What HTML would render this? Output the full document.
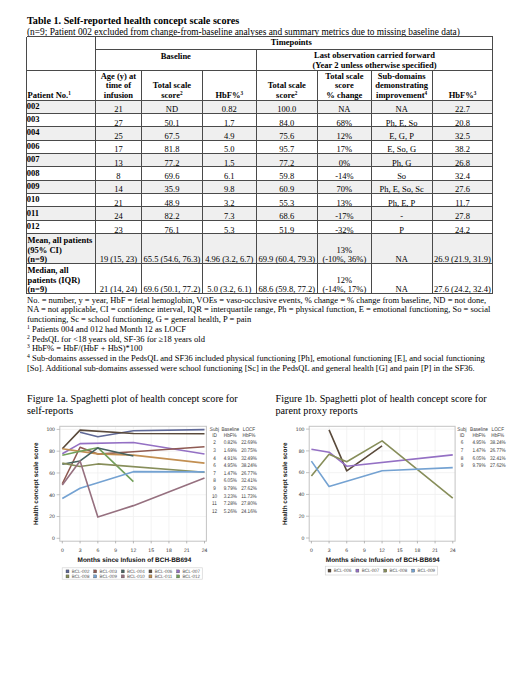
<!DOCTYPE html>
<html><head><meta charset="utf-8"><style>
html,body{margin:0;padding:0;background:#fff;}
body{width:520px;height:673px;position:relative;overflow:hidden;}
.t{position:absolute;white-space:nowrap;color:#000;}
.r{position:absolute;}
svg{position:absolute;left:0;top:0;}
svg text{font-family:'Liberation Sans',sans-serif;text-rendering:geometricPrecision;}
</style></head><body>
<div id="pg" style="position:absolute;left:0;top:0;width:520px;height:673px;">
<div class="t" style="left:27.00px;top:15.24px;font-size:10.2px;line-height:12.24px;font-family:'Liberation Serif', serif;font-weight:bold;">Table 1. Self-reported health concept scale scores</div><div class="t" style="left:27.00px;top:26.83px;font-size:9.35px;line-height:11.22px;font-family:'Liberation Serif', serif;">(n=9; Patient 002 excluded from change-from-baseline analyses and summary metrics due to missing baseline data)</div><div class="r" style="left:26.70px;top:100.00px;width:466.20px;height:13.37px;background:#efefef"></div><div class="r" style="left:26.70px;top:126.74px;width:466.20px;height:13.37px;background:#efefef"></div><div class="r" style="left:26.70px;top:153.48px;width:466.20px;height:13.37px;background:#efefef"></div><div class="r" style="left:26.70px;top:180.22px;width:466.20px;height:13.37px;background:#efefef"></div><div class="r" style="left:26.70px;top:206.96px;width:466.20px;height:13.37px;background:#efefef"></div><div class="r" style="left:26.70px;top:233.70px;width:466.20px;height:29.70px;background:#efefef"></div><div class="r" style="left:26.70px;top:36.00px;width:466.20px;height:1.00px;background:#4a4a4a"></div><div class="r" style="left:95.40px;top:49.10px;width:397.50px;height:1.00px;background:#4a4a4a"></div><div class="r" style="left:26.70px;top:69.50px;width:466.20px;height:1.00px;background:#4a4a4a"></div><div class="r" style="left:26.70px;top:99.50px;width:466.20px;height:1.00px;background:#4a4a4a"></div><div class="r" style="left:26.70px;top:112.87px;width:466.20px;height:1.00px;background:#4a4a4a"></div><div class="r" style="left:26.70px;top:126.24px;width:466.20px;height:1.00px;background:#4a4a4a"></div><div class="r" style="left:26.70px;top:139.61px;width:466.20px;height:1.00px;background:#4a4a4a"></div><div class="r" style="left:26.70px;top:152.98px;width:466.20px;height:1.00px;background:#4a4a4a"></div><div class="r" style="left:26.70px;top:166.35px;width:466.20px;height:1.00px;background:#4a4a4a"></div><div class="r" style="left:26.70px;top:179.72px;width:466.20px;height:1.00px;background:#4a4a4a"></div><div class="r" style="left:26.70px;top:193.09px;width:466.20px;height:1.00px;background:#4a4a4a"></div><div class="r" style="left:26.70px;top:206.46px;width:466.20px;height:1.00px;background:#4a4a4a"></div><div class="r" style="left:26.70px;top:219.83px;width:466.20px;height:1.00px;background:#4a4a4a"></div><div class="r" style="left:26.70px;top:233.20px;width:466.20px;height:1.00px;background:#4a4a4a"></div><div class="r" style="left:26.70px;top:262.90px;width:466.20px;height:1.00px;background:#4a4a4a"></div><div class="r" style="left:26.70px;top:292.60px;width:466.20px;height:1.00px;background:#4a4a4a"></div><div class="r" style="left:26.20px;top:36.50px;width:1.00px;height:257.10px;background:#4a4a4a"></div><div class="r" style="left:492.40px;top:36.50px;width:1.00px;height:257.10px;background:#4a4a4a"></div><div class="r" style="left:94.90px;top:36.50px;width:1.00px;height:256.60px;background:#4a4a4a"></div><div class="r" style="left:255.70px;top:49.60px;width:1.00px;height:243.50px;background:#4a4a4a"></div><div class="r" style="left:141.00px;top:70.00px;width:1.00px;height:223.10px;background:#4a4a4a"></div><div class="r" style="left:201.90px;top:70.00px;width:1.00px;height:223.10px;background:#4a4a4a"></div><div class="r" style="left:316.90px;top:70.00px;width:1.00px;height:223.10px;background:#4a4a4a"></div><div class="r" style="left:370.80px;top:70.00px;width:1.00px;height:223.10px;background:#4a4a4a"></div><div class="r" style="left:431.50px;top:70.00px;width:1.00px;height:223.10px;background:#4a4a4a"></div><div class="t" style="left:270.80px;top:37.03px;font-size:8.5px;line-height:10.2px;font-family:'Liberation Serif', serif;font-weight:bold;">Timepoints</div><div class="t" style="left:95.40px;top:50.53px;font-size:8.5px;line-height:10.2px;font-family:'Liberation Serif', serif;font-weight:bold;width:160.80px;text-align:center;">Baseline</div><div class="t" style="left:256.20px;top:49.83px;font-size:8.5px;line-height:10.2px;font-family:'Liberation Serif', serif;font-weight:bold;width:236.70px;text-align:center;">Last observation carried forward</div><div class="t" style="left:256.20px;top:59.93px;font-size:8.5px;line-height:10.2px;font-family:'Liberation Serif', serif;font-weight:bold;width:236.70px;text-align:center;">(Year 2 unless otherwise specified)</div><div class="t" style="left:27.60px;top:90.13px;font-size:8.5px;line-height:10.2px;font-family:'Liberation Serif', serif;font-weight:bold;">Patient No.<span style="font-size:5.2px;vertical-align:3.2px;line-height:0">1</span></div><div class="t" style="left:95.40px;top:70.63px;font-size:8.5px;line-height:10.2px;font-family:'Liberation Serif', serif;font-weight:bold;width:46.10px;text-align:center;">Age (y) at</div><div class="t" style="left:95.40px;top:79.93px;font-size:8.5px;line-height:10.2px;font-family:'Liberation Serif', serif;font-weight:bold;width:46.10px;text-align:center;">time of</div><div class="t" style="left:95.40px;top:89.63px;font-size:8.5px;line-height:10.2px;font-family:'Liberation Serif', serif;font-weight:bold;width:46.10px;text-align:center;">infusion</div><div class="t" style="left:141.50px;top:79.93px;font-size:8.5px;line-height:10.2px;font-family:'Liberation Serif', serif;font-weight:bold;width:60.90px;text-align:center;">Total scale</div><div class="t" style="left:141.50px;top:89.63px;font-size:8.5px;line-height:10.2px;font-family:'Liberation Serif', serif;font-weight:bold;width:60.90px;text-align:center;">score<span style="font-size:5.2px;vertical-align:3.2px;line-height:0">2</span></div><div class="t" style="left:202.40px;top:89.63px;font-size:8.5px;line-height:10.2px;font-family:'Liberation Serif', serif;font-weight:bold;width:53.80px;text-align:center;">HbF%<span style="font-size:5.2px;vertical-align:3.2px;line-height:0">3</span></div><div class="t" style="left:256.20px;top:79.93px;font-size:8.5px;line-height:10.2px;font-family:'Liberation Serif', serif;font-weight:bold;width:61.20px;text-align:center;">Total scale</div><div class="t" style="left:256.20px;top:89.63px;font-size:8.5px;line-height:10.2px;font-family:'Liberation Serif', serif;font-weight:bold;width:61.20px;text-align:center;">score<span style="font-size:5.2px;vertical-align:3.2px;line-height:0">2</span></div><div class="t" style="left:317.40px;top:70.63px;font-size:8.5px;line-height:10.2px;font-family:'Liberation Serif', serif;font-weight:bold;width:53.90px;text-align:center;">Total scale</div><div class="t" style="left:317.40px;top:79.93px;font-size:8.5px;line-height:10.2px;font-family:'Liberation Serif', serif;font-weight:bold;width:53.90px;text-align:center;">score</div><div class="t" style="left:317.40px;top:89.63px;font-size:8.5px;line-height:10.2px;font-family:'Liberation Serif', serif;font-weight:bold;width:53.90px;text-align:center;">% change</div><div class="t" style="left:371.30px;top:70.63px;font-size:8.5px;line-height:10.2px;font-family:'Liberation Serif', serif;font-weight:bold;width:60.70px;text-align:center;">Sub-domains</div><div class="t" style="left:371.30px;top:79.93px;font-size:8.5px;line-height:10.2px;font-family:'Liberation Serif', serif;font-weight:bold;width:60.70px;text-align:center;">demonstrating</div><div class="t" style="left:371.30px;top:89.63px;font-size:8.5px;line-height:10.2px;font-family:'Liberation Serif', serif;font-weight:bold;width:60.70px;text-align:center;">improvement<span style="font-size:5.2px;vertical-align:3.2px;line-height:0">4</span></div><div class="t" style="left:432.00px;top:89.63px;font-size:8.5px;line-height:10.2px;font-family:'Liberation Serif', serif;font-weight:bold;width:60.90px;text-align:center;">HbF%<span style="font-size:5.2px;vertical-align:3.2px;line-height:0">3</span></div><div class="t" style="left:26.80px;top:100.73px;font-size:8.5px;line-height:10.2px;font-family:'Liberation Serif', serif;font-weight:bold;">002</div><div class="t" style="left:95.40px;top:104.20px;font-size:8.5px;line-height:10.2px;font-family:'Liberation Serif', serif;width:46.10px;text-align:center;">21</div><div class="t" style="left:141.50px;top:104.20px;font-size:8.5px;line-height:10.2px;font-family:'Liberation Serif', serif;width:60.90px;text-align:center;">ND</div><div class="t" style="left:202.40px;top:104.20px;font-size:8.5px;line-height:10.2px;font-family:'Liberation Serif', serif;width:53.80px;text-align:center;">0.82</div><div class="t" style="left:256.20px;top:104.20px;font-size:8.5px;line-height:10.2px;font-family:'Liberation Serif', serif;width:61.20px;text-align:center;">100.0</div><div class="t" style="left:317.40px;top:104.20px;font-size:8.5px;line-height:10.2px;font-family:'Liberation Serif', serif;width:53.90px;text-align:center;">NA</div><div class="t" style="left:371.30px;top:104.20px;font-size:8.5px;line-height:10.2px;font-family:'Liberation Serif', serif;width:60.70px;text-align:center;">NA</div><div class="t" style="left:432.00px;top:104.20px;font-size:8.5px;line-height:10.2px;font-family:'Liberation Serif', serif;width:60.90px;text-align:center;">22.7</div><div class="t" style="left:26.80px;top:114.10px;font-size:8.5px;line-height:10.2px;font-family:'Liberation Serif', serif;font-weight:bold;">003</div><div class="t" style="left:95.40px;top:117.57px;font-size:8.5px;line-height:10.2px;font-family:'Liberation Serif', serif;width:46.10px;text-align:center;">27</div><div class="t" style="left:141.50px;top:117.57px;font-size:8.5px;line-height:10.2px;font-family:'Liberation Serif', serif;width:60.90px;text-align:center;">50.1</div><div class="t" style="left:202.40px;top:117.57px;font-size:8.5px;line-height:10.2px;font-family:'Liberation Serif', serif;width:53.80px;text-align:center;">1.7</div><div class="t" style="left:256.20px;top:117.57px;font-size:8.5px;line-height:10.2px;font-family:'Liberation Serif', serif;width:61.20px;text-align:center;">84.0</div><div class="t" style="left:317.40px;top:117.57px;font-size:8.5px;line-height:10.2px;font-family:'Liberation Serif', serif;width:53.90px;text-align:center;">68%</div><div class="t" style="left:371.30px;top:117.57px;font-size:8.5px;line-height:10.2px;font-family:'Liberation Serif', serif;width:60.70px;text-align:center;">Ph, E, So</div><div class="t" style="left:432.00px;top:117.57px;font-size:8.5px;line-height:10.2px;font-family:'Liberation Serif', serif;width:60.90px;text-align:center;">20.8</div><div class="t" style="left:26.80px;top:127.47px;font-size:8.5px;line-height:10.2px;font-family:'Liberation Serif', serif;font-weight:bold;">004</div><div class="t" style="left:95.40px;top:130.94px;font-size:8.5px;line-height:10.2px;font-family:'Liberation Serif', serif;width:46.10px;text-align:center;">25</div><div class="t" style="left:141.50px;top:130.94px;font-size:8.5px;line-height:10.2px;font-family:'Liberation Serif', serif;width:60.90px;text-align:center;">67.5</div><div class="t" style="left:202.40px;top:130.94px;font-size:8.5px;line-height:10.2px;font-family:'Liberation Serif', serif;width:53.80px;text-align:center;">4.9</div><div class="t" style="left:256.20px;top:130.94px;font-size:8.5px;line-height:10.2px;font-family:'Liberation Serif', serif;width:61.20px;text-align:center;">75.6</div><div class="t" style="left:317.40px;top:130.94px;font-size:8.5px;line-height:10.2px;font-family:'Liberation Serif', serif;width:53.90px;text-align:center;">12%</div><div class="t" style="left:371.30px;top:130.94px;font-size:8.5px;line-height:10.2px;font-family:'Liberation Serif', serif;width:60.70px;text-align:center;">E, G, P</div><div class="t" style="left:432.00px;top:130.94px;font-size:8.5px;line-height:10.2px;font-family:'Liberation Serif', serif;width:60.90px;text-align:center;">32.5</div><div class="t" style="left:26.80px;top:140.84px;font-size:8.5px;line-height:10.2px;font-family:'Liberation Serif', serif;font-weight:bold;">006</div><div class="t" style="left:95.40px;top:144.31px;font-size:8.5px;line-height:10.2px;font-family:'Liberation Serif', serif;width:46.10px;text-align:center;">17</div><div class="t" style="left:141.50px;top:144.31px;font-size:8.5px;line-height:10.2px;font-family:'Liberation Serif', serif;width:60.90px;text-align:center;">81.8</div><div class="t" style="left:202.40px;top:144.31px;font-size:8.5px;line-height:10.2px;font-family:'Liberation Serif', serif;width:53.80px;text-align:center;">5.0</div><div class="t" style="left:256.20px;top:144.31px;font-size:8.5px;line-height:10.2px;font-family:'Liberation Serif', serif;width:61.20px;text-align:center;">95.7</div><div class="t" style="left:317.40px;top:144.31px;font-size:8.5px;line-height:10.2px;font-family:'Liberation Serif', serif;width:53.90px;text-align:center;">17%</div><div class="t" style="left:371.30px;top:144.31px;font-size:8.5px;line-height:10.2px;font-family:'Liberation Serif', serif;width:60.70px;text-align:center;">E, So, G</div><div class="t" style="left:432.00px;top:144.31px;font-size:8.5px;line-height:10.2px;font-family:'Liberation Serif', serif;width:60.90px;text-align:center;">38.2</div><div class="t" style="left:26.80px;top:154.21px;font-size:8.5px;line-height:10.2px;font-family:'Liberation Serif', serif;font-weight:bold;">007</div><div class="t" style="left:95.40px;top:157.68px;font-size:8.5px;line-height:10.2px;font-family:'Liberation Serif', serif;width:46.10px;text-align:center;">13</div><div class="t" style="left:141.50px;top:157.68px;font-size:8.5px;line-height:10.2px;font-family:'Liberation Serif', serif;width:60.90px;text-align:center;">77.2</div><div class="t" style="left:202.40px;top:157.68px;font-size:8.5px;line-height:10.2px;font-family:'Liberation Serif', serif;width:53.80px;text-align:center;">1.5</div><div class="t" style="left:256.20px;top:157.68px;font-size:8.5px;line-height:10.2px;font-family:'Liberation Serif', serif;width:61.20px;text-align:center;">77.2</div><div class="t" style="left:317.40px;top:157.68px;font-size:8.5px;line-height:10.2px;font-family:'Liberation Serif', serif;width:53.90px;text-align:center;">0%</div><div class="t" style="left:371.30px;top:157.68px;font-size:8.5px;line-height:10.2px;font-family:'Liberation Serif', serif;width:60.70px;text-align:center;">Ph, G</div><div class="t" style="left:432.00px;top:157.68px;font-size:8.5px;line-height:10.2px;font-family:'Liberation Serif', serif;width:60.90px;text-align:center;">26.8</div><div class="t" style="left:26.80px;top:167.58px;font-size:8.5px;line-height:10.2px;font-family:'Liberation Serif', serif;font-weight:bold;">008</div><div class="t" style="left:95.40px;top:171.05px;font-size:8.5px;line-height:10.2px;font-family:'Liberation Serif', serif;width:46.10px;text-align:center;">8</div><div class="t" style="left:141.50px;top:171.05px;font-size:8.5px;line-height:10.2px;font-family:'Liberation Serif', serif;width:60.90px;text-align:center;">69.6</div><div class="t" style="left:202.40px;top:171.05px;font-size:8.5px;line-height:10.2px;font-family:'Liberation Serif', serif;width:53.80px;text-align:center;">6.1</div><div class="t" style="left:256.20px;top:171.05px;font-size:8.5px;line-height:10.2px;font-family:'Liberation Serif', serif;width:61.20px;text-align:center;">59.8</div><div class="t" style="left:317.40px;top:171.05px;font-size:8.5px;line-height:10.2px;font-family:'Liberation Serif', serif;width:53.90px;text-align:center;">-14%</div><div class="t" style="left:371.30px;top:171.05px;font-size:8.5px;line-height:10.2px;font-family:'Liberation Serif', serif;width:60.70px;text-align:center;">So</div><div class="t" style="left:432.00px;top:171.05px;font-size:8.5px;line-height:10.2px;font-family:'Liberation Serif', serif;width:60.90px;text-align:center;">32.4</div><div class="t" style="left:26.80px;top:180.95px;font-size:8.5px;line-height:10.2px;font-family:'Liberation Serif', serif;font-weight:bold;">009</div><div class="t" style="left:95.40px;top:184.42px;font-size:8.5px;line-height:10.2px;font-family:'Liberation Serif', serif;width:46.10px;text-align:center;">14</div><div class="t" style="left:141.50px;top:184.42px;font-size:8.5px;line-height:10.2px;font-family:'Liberation Serif', serif;width:60.90px;text-align:center;">35.9</div><div class="t" style="left:202.40px;top:184.42px;font-size:8.5px;line-height:10.2px;font-family:'Liberation Serif', serif;width:53.80px;text-align:center;">9.8</div><div class="t" style="left:256.20px;top:184.42px;font-size:8.5px;line-height:10.2px;font-family:'Liberation Serif', serif;width:61.20px;text-align:center;">60.9</div><div class="t" style="left:317.40px;top:184.42px;font-size:8.5px;line-height:10.2px;font-family:'Liberation Serif', serif;width:53.90px;text-align:center;">70%</div><div class="t" style="left:371.30px;top:184.42px;font-size:8.5px;line-height:10.2px;font-family:'Liberation Serif', serif;width:60.70px;text-align:center;">Ph, E, So, Sc</div><div class="t" style="left:432.00px;top:184.42px;font-size:8.5px;line-height:10.2px;font-family:'Liberation Serif', serif;width:60.90px;text-align:center;">27.6</div><div class="t" style="left:26.80px;top:194.32px;font-size:8.5px;line-height:10.2px;font-family:'Liberation Serif', serif;font-weight:bold;">010</div><div class="t" style="left:95.40px;top:197.79px;font-size:8.5px;line-height:10.2px;font-family:'Liberation Serif', serif;width:46.10px;text-align:center;">21</div><div class="t" style="left:141.50px;top:197.79px;font-size:8.5px;line-height:10.2px;font-family:'Liberation Serif', serif;width:60.90px;text-align:center;">48.9</div><div class="t" style="left:202.40px;top:197.79px;font-size:8.5px;line-height:10.2px;font-family:'Liberation Serif', serif;width:53.80px;text-align:center;">3.2</div><div class="t" style="left:256.20px;top:197.79px;font-size:8.5px;line-height:10.2px;font-family:'Liberation Serif', serif;width:61.20px;text-align:center;">55.3</div><div class="t" style="left:317.40px;top:197.79px;font-size:8.5px;line-height:10.2px;font-family:'Liberation Serif', serif;width:53.90px;text-align:center;">13%</div><div class="t" style="left:371.30px;top:197.79px;font-size:8.5px;line-height:10.2px;font-family:'Liberation Serif', serif;width:60.70px;text-align:center;">Ph, E, P</div><div class="t" style="left:432.00px;top:197.79px;font-size:8.5px;line-height:10.2px;font-family:'Liberation Serif', serif;width:60.90px;text-align:center;">11.7</div><div class="t" style="left:26.80px;top:207.69px;font-size:8.5px;line-height:10.2px;font-family:'Liberation Serif', serif;font-weight:bold;">011</div><div class="t" style="left:95.40px;top:211.16px;font-size:8.5px;line-height:10.2px;font-family:'Liberation Serif', serif;width:46.10px;text-align:center;">24</div><div class="t" style="left:141.50px;top:211.16px;font-size:8.5px;line-height:10.2px;font-family:'Liberation Serif', serif;width:60.90px;text-align:center;">82.2</div><div class="t" style="left:202.40px;top:211.16px;font-size:8.5px;line-height:10.2px;font-family:'Liberation Serif', serif;width:53.80px;text-align:center;">7.3</div><div class="t" style="left:256.20px;top:211.16px;font-size:8.5px;line-height:10.2px;font-family:'Liberation Serif', serif;width:61.20px;text-align:center;">68.6</div><div class="t" style="left:317.40px;top:211.16px;font-size:8.5px;line-height:10.2px;font-family:'Liberation Serif', serif;width:53.90px;text-align:center;">-17%</div><div class="t" style="left:371.30px;top:211.16px;font-size:8.5px;line-height:10.2px;font-family:'Liberation Serif', serif;width:60.70px;text-align:center;">-</div><div class="t" style="left:432.00px;top:211.16px;font-size:8.5px;line-height:10.2px;font-family:'Liberation Serif', serif;width:60.90px;text-align:center;">27.8</div><div class="t" style="left:26.80px;top:221.06px;font-size:8.5px;line-height:10.2px;font-family:'Liberation Serif', serif;font-weight:bold;">012</div><div class="t" style="left:95.40px;top:224.53px;font-size:8.5px;line-height:10.2px;font-family:'Liberation Serif', serif;width:46.10px;text-align:center;">23</div><div class="t" style="left:141.50px;top:224.53px;font-size:8.5px;line-height:10.2px;font-family:'Liberation Serif', serif;width:60.90px;text-align:center;">76.1</div><div class="t" style="left:202.40px;top:224.53px;font-size:8.5px;line-height:10.2px;font-family:'Liberation Serif', serif;width:53.80px;text-align:center;">5.3</div><div class="t" style="left:256.20px;top:224.53px;font-size:8.5px;line-height:10.2px;font-family:'Liberation Serif', serif;width:61.20px;text-align:center;">51.9</div><div class="t" style="left:317.40px;top:224.53px;font-size:8.5px;line-height:10.2px;font-family:'Liberation Serif', serif;width:53.90px;text-align:center;">-32%</div><div class="t" style="left:371.30px;top:224.53px;font-size:8.5px;line-height:10.2px;font-family:'Liberation Serif', serif;width:60.70px;text-align:center;">P</div><div class="t" style="left:432.00px;top:224.53px;font-size:8.5px;line-height:10.2px;font-family:'Liberation Serif', serif;width:60.90px;text-align:center;">24.2</div><div class="t" style="left:27.50px;top:235.43px;font-size:8.5px;line-height:10.2px;font-family:'Liberation Serif', serif;font-weight:bold;">Mean, all patients</div><div class="t" style="left:27.50px;top:244.83px;font-size:8.5px;line-height:10.2px;font-family:'Liberation Serif', serif;font-weight:bold;">(95% CI)</div><div class="t" style="left:27.50px;top:254.23px;font-size:8.5px;line-height:10.2px;font-family:'Liberation Serif', serif;font-weight:bold;">(n=9)</div><div class="t" style="left:95.40px;top:254.23px;font-size:8.5px;line-height:10.2px;font-family:'Liberation Serif', serif;width:46.10px;text-align:center;">19 (15, 23)</div><div class="t" style="left:141.50px;top:254.23px;font-size:8.5px;line-height:10.2px;font-family:'Liberation Serif', serif;width:60.90px;text-align:center;">65.5 (54.6, 76.3)</div><div class="t" style="left:202.40px;top:254.23px;font-size:8.5px;line-height:10.2px;font-family:'Liberation Serif', serif;width:53.80px;text-align:center;">4.96 (3.2, 6.7)</div><div class="t" style="left:256.20px;top:254.23px;font-size:8.5px;line-height:10.2px;font-family:'Liberation Serif', serif;width:61.20px;text-align:center;">69.9 (60.4, 79.3)</div><div class="t" style="left:317.40px;top:244.83px;font-size:8.5px;line-height:10.2px;font-family:'Liberation Serif', serif;width:53.90px;text-align:center;">13%</div><div class="t" style="left:317.40px;top:254.23px;font-size:8.5px;line-height:10.2px;font-family:'Liberation Serif', serif;width:53.90px;text-align:center;">(-10%, 36%)</div><div class="t" style="left:371.30px;top:254.23px;font-size:8.5px;line-height:10.2px;font-family:'Liberation Serif', serif;width:60.70px;text-align:center;">NA</div><div class="t" style="left:432.00px;top:254.23px;font-size:8.5px;line-height:10.2px;font-family:'Liberation Serif', serif;width:60.90px;text-align:center;">26.9 (21.9, 31.9)</div><div class="t" style="left:27.50px;top:265.13px;font-size:8.5px;line-height:10.2px;font-family:'Liberation Serif', serif;font-weight:bold;">Median, all</div><div class="t" style="left:27.50px;top:274.53px;font-size:8.5px;line-height:10.2px;font-family:'Liberation Serif', serif;font-weight:bold;">patients (IQR)</div><div class="t" style="left:27.50px;top:283.93px;font-size:8.5px;line-height:10.2px;font-family:'Liberation Serif', serif;font-weight:bold;">(n=9)</div><div class="t" style="left:95.40px;top:283.93px;font-size:8.5px;line-height:10.2px;font-family:'Liberation Serif', serif;width:46.10px;text-align:center;">21 (14, 24)</div><div class="t" style="left:141.50px;top:283.93px;font-size:8.5px;line-height:10.2px;font-family:'Liberation Serif', serif;width:60.90px;text-align:center;">69.6 (50.1, 77.2)</div><div class="t" style="left:202.40px;top:283.93px;font-size:8.5px;line-height:10.2px;font-family:'Liberation Serif', serif;width:53.80px;text-align:center;">5.0 (3.2, 6.1)</div><div class="t" style="left:256.20px;top:283.93px;font-size:8.5px;line-height:10.2px;font-family:'Liberation Serif', serif;width:61.20px;text-align:center;">68.6 (59.8, 77.2)</div><div class="t" style="left:317.40px;top:274.53px;font-size:8.5px;line-height:10.2px;font-family:'Liberation Serif', serif;width:53.90px;text-align:center;">12%</div><div class="t" style="left:317.40px;top:283.93px;font-size:8.5px;line-height:10.2px;font-family:'Liberation Serif', serif;width:53.90px;text-align:center;">(-14%, 17%)</div><div class="t" style="left:371.30px;top:283.93px;font-size:8.5px;line-height:10.2px;font-family:'Liberation Serif', serif;width:60.70px;text-align:center;">NA</div><div class="t" style="left:432.00px;top:283.93px;font-size:8.5px;line-height:10.2px;font-family:'Liberation Serif', serif;width:60.90px;text-align:center;">27.6 (24.2, 32.4)</div><div class="t" style="left:27.00px;top:294.73px;font-size:8.5px;line-height:10.2px;font-family:'Liberation Serif', serif;">No. = number, y = year, HbF = fetal hemoglobin, VOEs = vaso-occlusive events, % change = % change from baseline, ND = not done,</div><div class="t" style="left:27.00px;top:304.45px;font-size:8.5px;line-height:10.2px;font-family:'Liberation Serif', serif;">NA = not applicable, CI = confidence interval, IQR = interquartile range, Ph = physical function, E = emotional functioning, So = social</div><div class="t" style="left:27.00px;top:314.17px;font-size:8.5px;line-height:10.2px;font-family:'Liberation Serif', serif;">functioning, Sc = school functioning, G = general health, P = pain</div><div class="t" style="left:27.00px;top:323.89px;font-size:8.5px;line-height:10.2px;font-family:'Liberation Serif', serif;"><span style="font-size:5.6px;vertical-align:3px;line-height:0">1</span> Patients 004 and 012 had Month 12 as LOCF</div><div class="t" style="left:27.00px;top:333.61px;font-size:8.5px;line-height:10.2px;font-family:'Liberation Serif', serif;"><span style="font-size:5.6px;vertical-align:3px;line-height:0">2</span> PedsQL for &lt;18 years old, SF-36 for &ge;18 years old</div><div class="t" style="left:27.00px;top:343.33px;font-size:8.5px;line-height:10.2px;font-family:'Liberation Serif', serif;"><span style="font-size:5.6px;vertical-align:3px;line-height:0">3</span> HbF% = HbF/(HbF + HbS)*100</div><div class="t" style="left:27.00px;top:353.05px;font-size:8.5px;line-height:10.2px;font-family:'Liberation Serif', serif;"><span style="font-size:5.6px;vertical-align:3px;line-height:0">4</span> Sub-domains assessed in the PedsQL and SF36 included physical functioning [Ph], emotional functioning [E], and social functioning</div><div class="t" style="left:27.00px;top:362.77px;font-size:8.5px;line-height:10.2px;font-family:'Liberation Serif', serif;">[So]. Additional sub-domains assessed were school functioning [Sc] in the PedsQL and general health [G] and pain [P] in the SF36.</div><div class="t" style="left:27.00px;top:392.98px;font-size:10.15px;line-height:12.18px;font-family:'Liberation Serif', serif;">Figure 1a. Spaghetti plot of health concept score for</div><div class="t" style="left:27.00px;top:404.98px;font-size:10.15px;line-height:12.18px;font-family:'Liberation Serif', serif;">self-reports</div><div class="t" style="left:275.50px;top:392.98px;font-size:10.15px;line-height:12.18px;font-family:'Liberation Serif', serif;">Figure 1b. Spaghetti plot of health concept score for</div><div class="t" style="left:275.50px;top:404.98px;font-size:10.15px;line-height:12.18px;font-family:'Liberation Serif', serif;">parent proxy reports</div>
<svg width="520" height="673" viewBox="0 0 520 673" font-family="Liberation Sans, sans-serif"><line x1="80.07" y1="426.3" x2="80.07" y2="541.2" stroke="#f0f0f0" stroke-width="0.8"/><line x1="97.85" y1="426.3" x2="97.85" y2="541.2" stroke="#f0f0f0" stroke-width="0.8"/><line x1="115.62" y1="426.3" x2="115.62" y2="541.2" stroke="#f0f0f0" stroke-width="0.8"/><line x1="133.40" y1="426.3" x2="133.40" y2="541.2" stroke="#f0f0f0" stroke-width="0.8"/><line x1="151.18" y1="426.3" x2="151.18" y2="541.2" stroke="#f0f0f0" stroke-width="0.8"/><line x1="168.95" y1="426.3" x2="168.95" y2="541.2" stroke="#f0f0f0" stroke-width="0.8"/><line x1="186.72" y1="426.3" x2="186.72" y2="541.2" stroke="#f0f0f0" stroke-width="0.8"/><line x1="59.8" y1="516.52" x2="206.4" y2="516.52" stroke="#f0f0f0" stroke-width="0.8"/><line x1="59.8" y1="494.74" x2="206.4" y2="494.74" stroke="#f0f0f0" stroke-width="0.8"/><line x1="59.8" y1="472.96" x2="206.4" y2="472.96" stroke="#f0f0f0" stroke-width="0.8"/><line x1="59.8" y1="451.18" x2="206.4" y2="451.18" stroke="#f0f0f0" stroke-width="0.8"/><line x1="59.8" y1="429.40" x2="206.4" y2="429.40" stroke="#f0f0f0" stroke-width="0.8"/><rect x="59.8" y="426.3" width="146.60000000000002" height="114.90000000000003" fill="none" stroke="#c4c4c4" stroke-width="1"/><line x1="56.599999999999994" y1="538.30" x2="59.8" y2="538.30" stroke="#aaa" stroke-width="0.7"/><text x="54.9" y="540.10" text-anchor="end" font-size="5.1" fill="#333">0</text><line x1="56.599999999999994" y1="516.52" x2="59.8" y2="516.52" stroke="#aaa" stroke-width="0.7"/><text x="54.9" y="518.32" text-anchor="end" font-size="5.1" fill="#333">20</text><line x1="56.599999999999994" y1="494.74" x2="59.8" y2="494.74" stroke="#aaa" stroke-width="0.7"/><text x="54.9" y="496.54" text-anchor="end" font-size="5.1" fill="#333">40</text><line x1="56.599999999999994" y1="472.96" x2="59.8" y2="472.96" stroke="#aaa" stroke-width="0.7"/><text x="54.9" y="474.76" text-anchor="end" font-size="5.1" fill="#333">60</text><line x1="56.599999999999994" y1="451.18" x2="59.8" y2="451.18" stroke="#aaa" stroke-width="0.7"/><text x="54.9" y="452.98" text-anchor="end" font-size="5.1" fill="#333">80</text><line x1="56.599999999999994" y1="429.40" x2="59.8" y2="429.40" stroke="#aaa" stroke-width="0.7"/><text x="54.9" y="431.20" text-anchor="end" font-size="5.1" fill="#333">100</text><line x1="62.30" y1="541.2" x2="62.30" y2="543.4000000000001" stroke="#999" stroke-width="0.7"/><text x="62.30" y="551.80" text-anchor="middle" font-size="5.1" fill="#333">0</text><line x1="80.07" y1="541.2" x2="80.07" y2="543.4000000000001" stroke="#999" stroke-width="0.7"/><text x="80.07" y="551.80" text-anchor="middle" font-size="5.1" fill="#333">3</text><line x1="97.85" y1="541.2" x2="97.85" y2="543.4000000000001" stroke="#999" stroke-width="0.7"/><text x="97.85" y="551.80" text-anchor="middle" font-size="5.1" fill="#333">6</text><line x1="115.62" y1="541.2" x2="115.62" y2="543.4000000000001" stroke="#999" stroke-width="0.7"/><text x="115.62" y="551.80" text-anchor="middle" font-size="5.1" fill="#333">9</text><line x1="133.40" y1="541.2" x2="133.40" y2="543.4000000000001" stroke="#999" stroke-width="0.7"/><text x="133.40" y="551.80" text-anchor="middle" font-size="5.1" fill="#333">12</text><line x1="151.18" y1="541.2" x2="151.18" y2="543.4000000000001" stroke="#999" stroke-width="0.7"/><text x="151.18" y="551.80" text-anchor="middle" font-size="5.1" fill="#333">15</text><line x1="168.95" y1="541.2" x2="168.95" y2="543.4000000000001" stroke="#999" stroke-width="0.7"/><text x="168.95" y="551.80" text-anchor="middle" font-size="5.1" fill="#333">18</text><line x1="186.72" y1="541.2" x2="186.72" y2="543.4000000000001" stroke="#999" stroke-width="0.7"/><text x="186.72" y="551.80" text-anchor="middle" font-size="5.1" fill="#333">21</text><line x1="204.50" y1="541.2" x2="204.50" y2="543.4000000000001" stroke="#999" stroke-width="0.7"/><text x="204.50" y="551.80" text-anchor="middle" font-size="5.1" fill="#333">24</text><polyline points="80.07,432.34 97.85,436.81 133.40,430.71 204.50,429.62" fill="none" stroke="#5f6897" stroke-width="1.6" stroke-linejoin="round"/><polyline points="62.30,448.68 80.07,430.16 133.40,433.43 204.50,433.76" fill="none" stroke="#5a4a3b" stroke-width="1.6" stroke-linejoin="round"/><polyline points="62.30,453.79 80.07,443.67 133.40,442.47 204.50,454.01" fill="none" stroke="#9470c4" stroke-width="1.6" stroke-linejoin="round"/><polyline points="62.30,483.74 80.07,447.26 97.85,454.12 133.40,451.72 204.50,446.72" fill="none" stroke="#8f5a52" stroke-width="1.6" stroke-linejoin="round"/><polyline points="62.30,448.68 80.07,451.40 97.85,453.90 133.40,455.10 204.50,463.16" fill="none" stroke="#c28f52" stroke-width="1.6" stroke-linejoin="round"/><polyline points="62.30,455.21 80.07,451.18 97.85,447.70 133.40,481.67" fill="none" stroke="#72a05a" stroke-width="1.6" stroke-linejoin="round"/><polyline points="62.30,464.25 80.07,460.98 97.85,447.91 133.40,455.97" fill="none" stroke="#46625f" stroke-width="1.6" stroke-linejoin="round"/><polyline points="62.30,463.16 80.07,466.43 97.85,463.92 204.50,472.31" fill="none" stroke="#878e5a" stroke-width="1.6" stroke-linejoin="round"/><polyline points="62.30,498.55 80.07,488.21 97.85,482.76 133.40,471.65 204.50,471.87" fill="none" stroke="#74a2d2" stroke-width="1.6" stroke-linejoin="round"/><polyline points="62.30,484.94 80.07,460.98 97.85,517.06 133.40,505.63 204.50,478.08" fill="none" stroke="#96707f" stroke-width="1.6" stroke-linejoin="round"/><text x="0" y="0" transform="translate(38.0,483.75) rotate(-90)" text-anchor="middle" font-size="6.4" font-weight="bold" fill="#111">Health concept scale score</text><text x="134.40" y="562.2" text-anchor="middle" font-size="6.45" font-weight="bold" fill="#111">Months since Infusion of BCH-BB694</text><text transform="translate(214.50,431.40) scale(0.86,1)" x="0" y="0" text-anchor="middle" font-size="5.4" fill="#3a3a3a">Subj</text><text transform="translate(230.30,431.40) scale(0.86,1)" x="0" y="0" text-anchor="middle" font-size="5.4" fill="#3a3a3a">Baseline</text><text transform="translate(249.00,431.40) scale(0.86,1)" x="0" y="0" text-anchor="middle" font-size="5.4" fill="#3a3a3a">LOCF</text><text transform="translate(214.50,436.70) scale(0.86,1)" x="0" y="0" text-anchor="middle" font-size="5.4" fill="#3a3a3a">ID</text><text transform="translate(230.30,436.70) scale(0.86,1)" x="0" y="0" text-anchor="middle" font-size="5.4" fill="#3a3a3a">HbF%</text><text transform="translate(249.00,436.70) scale(0.86,1)" x="0" y="0" text-anchor="middle" font-size="5.4" fill="#3a3a3a">HbF%</text><text transform="translate(214.50,444.40) scale(0.86,1)" x="0" y="0" text-anchor="middle" font-size="5.4" fill="#3a3a3a">2</text><text transform="translate(230.30,444.40) scale(0.86,1)" x="0" y="0" text-anchor="middle" font-size="5.4" fill="#3a3a3a">0.82%</text><text transform="translate(249.00,444.40) scale(0.86,1)" x="0" y="0" text-anchor="middle" font-size="5.4" fill="#3a3a3a">22.69%</text><text transform="translate(214.50,452.00) scale(0.86,1)" x="0" y="0" text-anchor="middle" font-size="5.4" fill="#3a3a3a">3</text><text transform="translate(230.30,452.00) scale(0.86,1)" x="0" y="0" text-anchor="middle" font-size="5.4" fill="#3a3a3a">1.69%</text><text transform="translate(249.00,452.00) scale(0.86,1)" x="0" y="0" text-anchor="middle" font-size="5.4" fill="#3a3a3a">20.75%</text><text transform="translate(214.50,459.60) scale(0.86,1)" x="0" y="0" text-anchor="middle" font-size="5.4" fill="#3a3a3a">4</text><text transform="translate(230.30,459.60) scale(0.86,1)" x="0" y="0" text-anchor="middle" font-size="5.4" fill="#3a3a3a">4.91%</text><text transform="translate(249.00,459.60) scale(0.86,1)" x="0" y="0" text-anchor="middle" font-size="5.4" fill="#3a3a3a">32.49%</text><text transform="translate(214.50,467.20) scale(0.86,1)" x="0" y="0" text-anchor="middle" font-size="5.4" fill="#3a3a3a">6</text><text transform="translate(230.30,467.20) scale(0.86,1)" x="0" y="0" text-anchor="middle" font-size="5.4" fill="#3a3a3a">4.95%</text><text transform="translate(249.00,467.20) scale(0.86,1)" x="0" y="0" text-anchor="middle" font-size="5.4" fill="#3a3a3a">38.24%</text><text transform="translate(214.50,474.80) scale(0.86,1)" x="0" y="0" text-anchor="middle" font-size="5.4" fill="#3a3a3a">7</text><text transform="translate(230.30,474.80) scale(0.86,1)" x="0" y="0" text-anchor="middle" font-size="5.4" fill="#3a3a3a">1.47%</text><text transform="translate(249.00,474.80) scale(0.86,1)" x="0" y="0" text-anchor="middle" font-size="5.4" fill="#3a3a3a">26.77%</text><text transform="translate(214.50,482.40) scale(0.86,1)" x="0" y="0" text-anchor="middle" font-size="5.4" fill="#3a3a3a">8</text><text transform="translate(230.30,482.40) scale(0.86,1)" x="0" y="0" text-anchor="middle" font-size="5.4" fill="#3a3a3a">6.05%</text><text transform="translate(249.00,482.40) scale(0.86,1)" x="0" y="0" text-anchor="middle" font-size="5.4" fill="#3a3a3a">32.41%</text><text transform="translate(214.50,490.00) scale(0.86,1)" x="0" y="0" text-anchor="middle" font-size="5.4" fill="#3a3a3a">9</text><text transform="translate(230.30,490.00) scale(0.86,1)" x="0" y="0" text-anchor="middle" font-size="5.4" fill="#3a3a3a">9.79%</text><text transform="translate(249.00,490.00) scale(0.86,1)" x="0" y="0" text-anchor="middle" font-size="5.4" fill="#3a3a3a">27.62%</text><text transform="translate(214.50,497.60) scale(0.86,1)" x="0" y="0" text-anchor="middle" font-size="5.4" fill="#3a3a3a">10</text><text transform="translate(230.30,497.60) scale(0.86,1)" x="0" y="0" text-anchor="middle" font-size="5.4" fill="#3a3a3a">3.23%</text><text transform="translate(249.00,497.60) scale(0.86,1)" x="0" y="0" text-anchor="middle" font-size="5.4" fill="#3a3a3a">11.73%</text><text transform="translate(214.50,505.20) scale(0.86,1)" x="0" y="0" text-anchor="middle" font-size="5.4" fill="#3a3a3a">11</text><text transform="translate(230.30,505.20) scale(0.86,1)" x="0" y="0" text-anchor="middle" font-size="5.4" fill="#3a3a3a">7.28%</text><text transform="translate(249.00,505.20) scale(0.86,1)" x="0" y="0" text-anchor="middle" font-size="5.4" fill="#3a3a3a">27.80%</text><text transform="translate(214.50,512.80) scale(0.86,1)" x="0" y="0" text-anchor="middle" font-size="5.4" fill="#3a3a3a">12</text><text transform="translate(230.30,512.80) scale(0.86,1)" x="0" y="0" text-anchor="middle" font-size="5.4" fill="#3a3a3a">5.26%</text><text transform="translate(249.00,512.80) scale(0.86,1)" x="0" y="0" text-anchor="middle" font-size="5.4" fill="#3a3a3a">24.16%</text><rect x="62.2" y="567.8" width="140.10000000000002" height="11.400000000000091" fill="#fff" stroke="#d4d4d4" stroke-width="0.7"/><rect x="66.00" y="569.90" width="3" height="3" fill="#5f6897" stroke="#333" stroke-width="0.3"/><text x="71.80" y="573.10" font-size="4.8" fill="#555" textLength="17.6" lengthAdjust="spacingAndGlyphs">BCL-002</text><rect x="93.65" y="569.90" width="3" height="3" fill="#8f5a52" stroke="#333" stroke-width="0.3"/><text x="99.45" y="573.10" font-size="4.8" fill="#555" textLength="17.6" lengthAdjust="spacingAndGlyphs">BCL-003</text><rect x="121.30" y="569.90" width="3" height="3" fill="#46625f" stroke="#333" stroke-width="0.3"/><text x="127.10" y="573.10" font-size="4.8" fill="#555" textLength="17.6" lengthAdjust="spacingAndGlyphs">BCL-004</text><rect x="148.95" y="569.90" width="3" height="3" fill="#5a4a3b" stroke="#333" stroke-width="0.3"/><text x="154.75" y="573.10" font-size="4.8" fill="#555" textLength="17.6" lengthAdjust="spacingAndGlyphs">BCL-006</text><rect x="176.60" y="569.90" width="3" height="3" fill="#9470c4" stroke="#333" stroke-width="0.3"/><text x="182.40" y="573.10" font-size="4.8" fill="#555" textLength="17.6" lengthAdjust="spacingAndGlyphs">BCL-007</text><rect x="66.00" y="574.90" width="3" height="3" fill="#878e5a" stroke="#333" stroke-width="0.3"/><text x="71.80" y="578.10" font-size="4.8" fill="#555" textLength="17.6" lengthAdjust="spacingAndGlyphs">BCL-008</text><rect x="93.65" y="574.90" width="3" height="3" fill="#74a2d2" stroke="#333" stroke-width="0.3"/><text x="99.45" y="578.10" font-size="4.8" fill="#555" textLength="17.6" lengthAdjust="spacingAndGlyphs">BCL-009</text><rect x="121.30" y="574.90" width="3" height="3" fill="#96707f" stroke="#333" stroke-width="0.3"/><text x="127.10" y="578.10" font-size="4.8" fill="#555" textLength="17.6" lengthAdjust="spacingAndGlyphs">BCL-010</text><rect x="148.95" y="574.90" width="3" height="3" fill="#c28f52" stroke="#333" stroke-width="0.3"/><text x="154.75" y="578.10" font-size="4.8" fill="#555" textLength="17.6" lengthAdjust="spacingAndGlyphs">BCL-011</text><rect x="176.60" y="574.90" width="3" height="3" fill="#72a05a" stroke="#333" stroke-width="0.3"/><text x="182.40" y="578.10" font-size="4.8" fill="#555" textLength="17.6" lengthAdjust="spacingAndGlyphs">BCL-012</text><line x1="329.07" y1="426.3" x2="329.07" y2="541.2" stroke="#f0f0f0" stroke-width="0.8"/><line x1="346.74" y1="426.3" x2="346.74" y2="541.2" stroke="#f0f0f0" stroke-width="0.8"/><line x1="364.41" y1="426.3" x2="364.41" y2="541.2" stroke="#f0f0f0" stroke-width="0.8"/><line x1="382.08" y1="426.3" x2="382.08" y2="541.2" stroke="#f0f0f0" stroke-width="0.8"/><line x1="399.75" y1="426.3" x2="399.75" y2="541.2" stroke="#f0f0f0" stroke-width="0.8"/><line x1="417.42" y1="426.3" x2="417.42" y2="541.2" stroke="#f0f0f0" stroke-width="0.8"/><line x1="435.09" y1="426.3" x2="435.09" y2="541.2" stroke="#f0f0f0" stroke-width="0.8"/><line x1="309.2" y1="516.22" x2="455.1" y2="516.22" stroke="#f0f0f0" stroke-width="0.8"/><line x1="309.2" y1="494.44" x2="455.1" y2="494.44" stroke="#f0f0f0" stroke-width="0.8"/><line x1="309.2" y1="472.66" x2="455.1" y2="472.66" stroke="#f0f0f0" stroke-width="0.8"/><line x1="309.2" y1="450.88" x2="455.1" y2="450.88" stroke="#f0f0f0" stroke-width="0.8"/><line x1="309.2" y1="429.10" x2="455.1" y2="429.10" stroke="#f0f0f0" stroke-width="0.8"/><rect x="309.2" y="426.3" width="145.90000000000003" height="114.90000000000003" fill="none" stroke="#c4c4c4" stroke-width="1"/><line x1="306.0" y1="538.00" x2="309.2" y2="538.00" stroke="#aaa" stroke-width="0.7"/><text x="304.3" y="539.80" text-anchor="end" font-size="5.1" fill="#333">0</text><line x1="306.0" y1="516.22" x2="309.2" y2="516.22" stroke="#aaa" stroke-width="0.7"/><text x="304.3" y="518.02" text-anchor="end" font-size="5.1" fill="#333">20</text><line x1="306.0" y1="494.44" x2="309.2" y2="494.44" stroke="#aaa" stroke-width="0.7"/><text x="304.3" y="496.24" text-anchor="end" font-size="5.1" fill="#333">40</text><line x1="306.0" y1="472.66" x2="309.2" y2="472.66" stroke="#aaa" stroke-width="0.7"/><text x="304.3" y="474.46" text-anchor="end" font-size="5.1" fill="#333">60</text><line x1="306.0" y1="450.88" x2="309.2" y2="450.88" stroke="#aaa" stroke-width="0.7"/><text x="304.3" y="452.68" text-anchor="end" font-size="5.1" fill="#333">80</text><line x1="306.0" y1="429.10" x2="309.2" y2="429.10" stroke="#aaa" stroke-width="0.7"/><text x="304.3" y="430.90" text-anchor="end" font-size="5.1" fill="#333">100</text><line x1="311.40" y1="541.2" x2="311.40" y2="543.4000000000001" stroke="#999" stroke-width="0.7"/><text x="311.40" y="551.80" text-anchor="middle" font-size="5.1" fill="#333">0</text><line x1="329.07" y1="541.2" x2="329.07" y2="543.4000000000001" stroke="#999" stroke-width="0.7"/><text x="329.07" y="551.80" text-anchor="middle" font-size="5.1" fill="#333">3</text><line x1="346.74" y1="541.2" x2="346.74" y2="543.4000000000001" stroke="#999" stroke-width="0.7"/><text x="346.74" y="551.80" text-anchor="middle" font-size="5.1" fill="#333">6</text><line x1="364.41" y1="541.2" x2="364.41" y2="543.4000000000001" stroke="#999" stroke-width="0.7"/><text x="364.41" y="551.80" text-anchor="middle" font-size="5.1" fill="#333">9</text><line x1="382.08" y1="541.2" x2="382.08" y2="543.4000000000001" stroke="#999" stroke-width="0.7"/><text x="382.08" y="551.80" text-anchor="middle" font-size="5.1" fill="#333">12</text><line x1="399.75" y1="541.2" x2="399.75" y2="543.4000000000001" stroke="#999" stroke-width="0.7"/><text x="399.75" y="551.80" text-anchor="middle" font-size="5.1" fill="#333">15</text><line x1="417.42" y1="541.2" x2="417.42" y2="543.4000000000001" stroke="#999" stroke-width="0.7"/><text x="417.42" y="551.80" text-anchor="middle" font-size="5.1" fill="#333">18</text><line x1="435.09" y1="541.2" x2="435.09" y2="543.4000000000001" stroke="#999" stroke-width="0.7"/><text x="435.09" y="551.80" text-anchor="middle" font-size="5.1" fill="#333">21</text><line x1="452.76" y1="541.2" x2="452.76" y2="543.4000000000001" stroke="#999" stroke-width="0.7"/><text x="452.76" y="551.80" text-anchor="middle" font-size="5.1" fill="#333">24</text><polyline points="329.07,429.86 346.74,470.81 382.08,445.87" fill="none" stroke="#5a4a3b" stroke-width="1.6" stroke-linejoin="round"/><polyline points="311.40,449.25 329.07,452.19 346.74,466.23 452.76,454.91" fill="none" stroke="#9470c4" stroke-width="1.6" stroke-linejoin="round"/><polyline points="311.40,475.93 329.07,454.26 346.74,461.77 382.08,440.86 452.76,498.03" fill="none" stroke="#878e5a" stroke-width="1.6" stroke-linejoin="round"/><polyline points="311.40,461.12 329.07,486.49 382.08,470.70 452.76,467.65" fill="none" stroke="#74a2d2" stroke-width="1.6" stroke-linejoin="round"/><text x="0" y="0" transform="translate(287.1,483.75) rotate(-90)" text-anchor="middle" font-size="6.4" font-weight="bold" fill="#111">Health concept scale score</text><text x="382.70" y="561.8" text-anchor="middle" font-size="6.45" font-weight="bold" fill="#111">Months since Infusion of BCH-BB694</text><text transform="translate(462.00,431.40) scale(0.86,1)" x="0" y="0" text-anchor="middle" font-size="5.4" fill="#3a3a3a">Subj</text><text transform="translate(479.00,431.40) scale(0.86,1)" x="0" y="0" text-anchor="middle" font-size="5.4" fill="#3a3a3a">Baseline</text><text transform="translate(497.80,431.40) scale(0.86,1)" x="0" y="0" text-anchor="middle" font-size="5.4" fill="#3a3a3a">LOCF</text><text transform="translate(462.00,436.70) scale(0.86,1)" x="0" y="0" text-anchor="middle" font-size="5.4" fill="#3a3a3a">ID</text><text transform="translate(479.00,436.70) scale(0.86,1)" x="0" y="0" text-anchor="middle" font-size="5.4" fill="#3a3a3a">HbF%</text><text transform="translate(497.80,436.70) scale(0.86,1)" x="0" y="0" text-anchor="middle" font-size="5.4" fill="#3a3a3a">HbF%</text><text transform="translate(462.00,444.40) scale(0.86,1)" x="0" y="0" text-anchor="middle" font-size="5.4" fill="#3a3a3a">6</text><text transform="translate(479.00,444.40) scale(0.86,1)" x="0" y="0" text-anchor="middle" font-size="5.4" fill="#3a3a3a">4.95%</text><text transform="translate(497.80,444.40) scale(0.86,1)" x="0" y="0" text-anchor="middle" font-size="5.4" fill="#3a3a3a">38.24%</text><text transform="translate(462.00,452.00) scale(0.86,1)" x="0" y="0" text-anchor="middle" font-size="5.4" fill="#3a3a3a">7</text><text transform="translate(479.00,452.00) scale(0.86,1)" x="0" y="0" text-anchor="middle" font-size="5.4" fill="#3a3a3a">1.47%</text><text transform="translate(497.80,452.00) scale(0.86,1)" x="0" y="0" text-anchor="middle" font-size="5.4" fill="#3a3a3a">26.77%</text><text transform="translate(462.00,459.60) scale(0.86,1)" x="0" y="0" text-anchor="middle" font-size="5.4" fill="#3a3a3a">8</text><text transform="translate(479.00,459.60) scale(0.86,1)" x="0" y="0" text-anchor="middle" font-size="5.4" fill="#3a3a3a">6.05%</text><text transform="translate(497.80,459.60) scale(0.86,1)" x="0" y="0" text-anchor="middle" font-size="5.4" fill="#3a3a3a">32.41%</text><text transform="translate(462.00,467.20) scale(0.86,1)" x="0" y="0" text-anchor="middle" font-size="5.4" fill="#3a3a3a">9</text><text transform="translate(479.00,467.20) scale(0.86,1)" x="0" y="0" text-anchor="middle" font-size="5.4" fill="#3a3a3a">9.79%</text><text transform="translate(497.80,467.20) scale(0.86,1)" x="0" y="0" text-anchor="middle" font-size="5.4" fill="#3a3a3a">27.62%</text><rect x="325.3" y="566.2" width="112.30000000000001" height="8.799999999999955" fill="#fff" stroke="#d4d4d4" stroke-width="0.7"/><rect x="328.00" y="569.10" width="3" height="3" fill="#5a4a3b" stroke="#333" stroke-width="0.3"/><text x="333.80" y="572.30" font-size="4.8" fill="#555" textLength="17.6" lengthAdjust="spacingAndGlyphs">BCL-006</text><rect x="355.90" y="569.10" width="3" height="3" fill="#9470c4" stroke="#333" stroke-width="0.3"/><text x="361.70" y="572.30" font-size="4.8" fill="#555" textLength="17.6" lengthAdjust="spacingAndGlyphs">BCL-007</text><rect x="383.80" y="569.10" width="3" height="3" fill="#878e5a" stroke="#333" stroke-width="0.3"/><text x="389.60" y="572.30" font-size="4.8" fill="#555" textLength="17.6" lengthAdjust="spacingAndGlyphs">BCL-008</text><rect x="411.70" y="569.10" width="3" height="3" fill="#74a2d2" stroke="#333" stroke-width="0.3"/><text x="417.50" y="572.30" font-size="4.8" fill="#555" textLength="17.6" lengthAdjust="spacingAndGlyphs">BCL-009</text></svg>
</div>
</body></html>
